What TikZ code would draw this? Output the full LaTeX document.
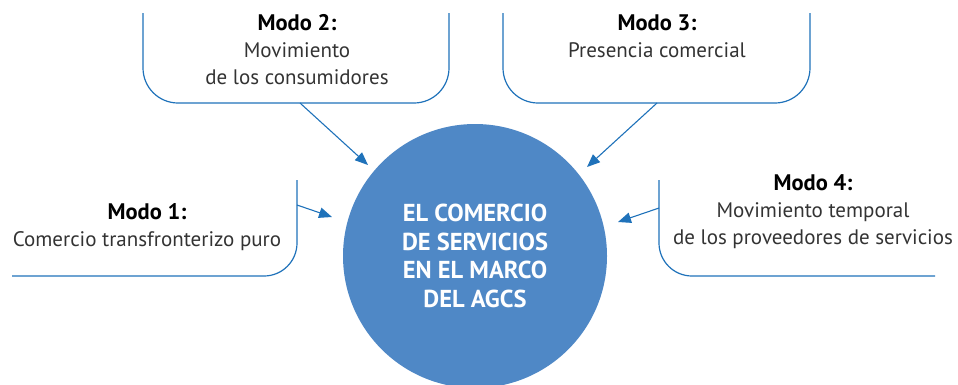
\documentclass[tikz,border=0pt]{standalone}
\usepackage{fontspec}
\setmainfont{PT Sans}
\usetikzlibrary{arrows.meta}
\definecolor{lineblue}{HTML}{1F72BA}
\definecolor{circblue}{HTML}{4F88C6}
\definecolor{txtgray}{HTML}{333333}
\newcommand{\modelabel}[1]{{\fontsize{22.5}{27}\selectfont\bfseries\color{black}#1}}
\tikzset{
  boxline/.style={draw=lineblue, line width=1.2pt, rounded corners=35pt},
  arr/.style={draw=lineblue, line width=1.1pt, -{Triangle[length=13pt,width=10.5pt]}},
  modetext/.style={align=center, text=txtgray, font=\fontsize{21}{27}\selectfont, inner sep=0pt},
  hub/.style={circle, fill=circblue, minimum size=264pt, inner sep=0pt, text=white, align=center,
     font=\bfseries\fontsize{24.5}{28.5}\selectfont}
}
\begin{document}
\begin{tikzpicture}[x=1pt,y=-1pt]
\useasboundingbox (0,0) rectangle (958,384);
\clip (0,0) rectangle (958,384);
% central circle
\node[hub] (hub) at (475,256) {EL COMERCIO\\DE SERVICIOS\\EN EL MARCO\\DEL AGCS};
% Modo 2 box
\draw[boxline] (143,13) -- (143,103) -- (449,103) -- (449,13);
\node[modetext] (m2) at (297,50) {\modelabel{Modo 2:}\\Movimiento\\de los consumidores};
% Modo 3 box
\draw[boxline] (503,13) -- (503,103) -- (810,103) -- (810,13);
\node[modetext] (m3) at (657,36) {\modelabel{Modo 3:}\\Presencia comercial};
% Modo 1 box
\draw[boxline, rounded corners=33pt] (297,180) -- (297,276) -- (12,276);
\node[modetext] (m1) at (147,227) {\modelabel{Modo 1:}\\Comercio transfronterizo puro};
% Modo 4 box
\draw[boxline, rounded corners=33pt] (659,180) -- (659,276) -- (935,276);
\node[modetext] (m4) at (813,212) {\modelabel{Modo 4:}\\Movimiento temporal\\de los proveedores de servicios};
% arrow coordinates
\coordinate (s2) at (300,103); \coordinate (e2) at (368,165);
\coordinate (s3) at (657,103); \coordinate (e3) at (587,167);
\coordinate (s1) at (297,205); \coordinate (e1) at (332,217);
\coordinate (s4) at (659,208); \coordinate (e4) at (618,222);
\draw[arr] (s2) -- (e2);
\draw[arr] (s3) -- (e3);
\draw[arr] (s1) -- (e1);
\draw[arr] (s4) -- (e4);
\end{tikzpicture}
\end{document}
